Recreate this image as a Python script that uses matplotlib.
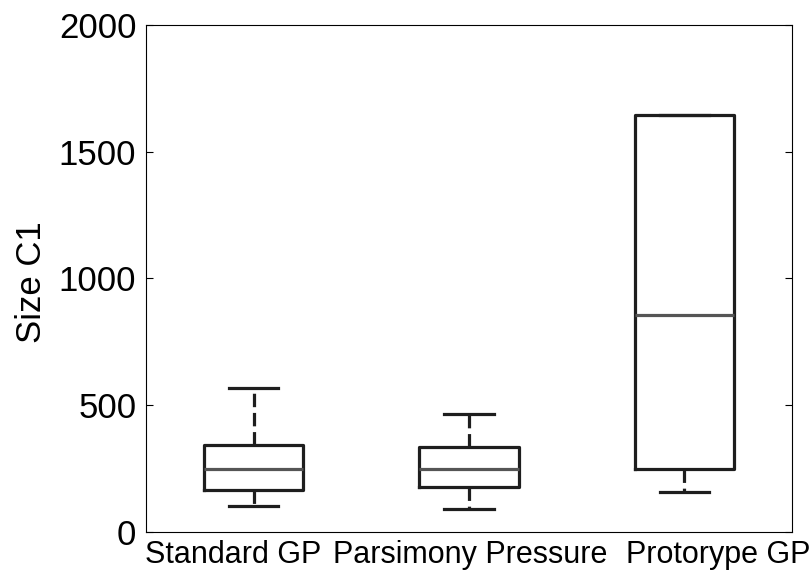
import matplotlib
matplotlib.use("Agg")
import matplotlib.pyplot as plt

plt.rcParams['font.family'] = ['Liberation Sans', 'DejaVu Sans']

# Methods compared
categories = ["Standard GP", "Parsimony Pressure", "Protorype GP"]

# Box-plot summary statistics for solution size
whisker_low = [103, 91, 158]
quartile1 = [166, 178, 249]
medians = [248, 248, 856]
quartile3 = [343, 335, 1645]
whisker_high = [568, 465, 1645]

y_ticks = [0, 500, 1000, 1500, 2000]

stats = []
for lab, lo, q1, med, q3, hi in zip(categories, whisker_low, quartile1,
                                     medians, quartile3, whisker_high):
    stats.append(dict(label=lab, whislo=lo, q1=q1, med=med, q3=q3,
                      whishi=hi, fliers=[]))

fig = plt.figure(figsize=(8.12, 5.76), dpi=100)
ax = fig.add_axes([0.1798, 0.0764, 0.7956, 0.8802])

box_col = "#1e1e1e"
lw = 2.3
ax.bxp(stats, positions=[1, 2, 3], widths=0.46, capwidths=0.23,
       showfliers=False,
       boxprops=dict(color=box_col, linewidth=lw),
       whiskerprops=dict(color=box_col, linewidth=lw, linestyle=(0, (4.2, 1.8))),
       capprops=dict(color=box_col, linewidth=lw),
       medianprops=dict(color="#555555", linewidth=lw))

ax.set_xlim(0.5, 3.5)
ax.set_ylim(0, 2000)
ax.set_yticks(y_ticks)
ax.set_yticklabels([str(v) for v in y_ticks], fontsize=25)

# Group labels sit under the boxes, spread so they do not collide
label_pos = [0.905, 2.005, 3.159]
ax.set_xticks(label_pos)
ax.set_xticklabels(categories, fontsize=22)
ax.tick_params(axis='x', length=0, pad=6)
ax.tick_params(axis='y', direction='in', length=5, width=0.8,
               right=True, pad=7)
ax.set_ylabel("Size C1", fontsize=25)
ax.yaxis.set_label_coords(-0.152, 0.492)
for s in ax.spines.values():
    s.set_linewidth(0.8)
    s.set_color("black")

fig.savefig("out.png", dpi=100)
